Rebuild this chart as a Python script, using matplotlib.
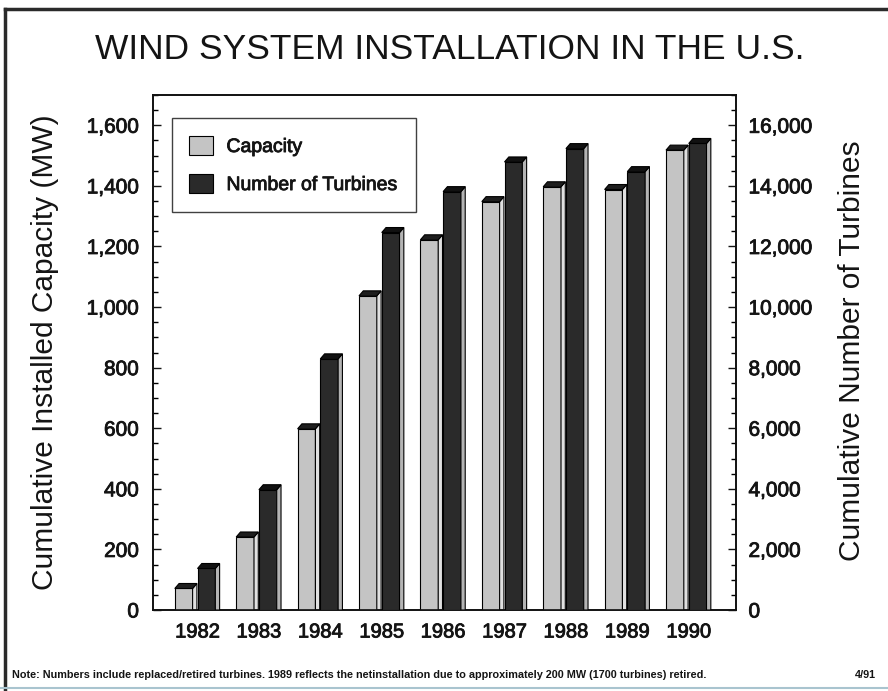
import matplotlib
matplotlib.use('Agg')
import matplotlib.pyplot as plt
import matplotlib.patheffects as pe
from matplotlib.patches import Rectangle
from matplotlib.lines import Line2D
from matplotlib.ticker import MultipleLocator, FuncFormatter
import numpy as np

plt.rcParams['font.family'] = ['Liberation Sans', 'DejaVu Sans']

# cumulative installations by year
years = ['1982', '1983', '1984', '1985', '1986', '1987', '1988', '1989', '1990']
capacity_mw = [71, 241, 598, 1037, 1222, 1348, 1397, 1388, 1518]
turbines = [1370, 3970, 8290, 12460, 13810, 14790, 15230, 14470, 15400]

x = np.arange(len(years))
bar_w = 0.29
depth_x = 0.07          # fake 3D depth in x data units
depth_px = 5            # fake 3D depth in pixels (vertical)
ink = '#141414'
heavy = [pe.withStroke(linewidth=0.6, foreground=ink)]

fig = plt.figure(figsize=(8.88, 6.91), dpi=100)
ax = fig.add_axes([153 / 888, 81 / 691, 583 / 888, 515 / 691])
ax2 = ax.twinx()

ax.set_xlim(-0.725, 8.77)
ax.set_ylim(0, 1700)
ax2.set_ylim(0, 17000)


def draw_3d_bars(axis, left, vals, ymax, front, side, top):
    dy = ymax / 515 * depth_px
    axis.bar(left, vals, width=bar_w, align='edge', color=front,
             edgecolor='black', linewidth=0.8, zorder=3)
    for x0, v in zip(left, vals):
        x1 = x0 + bar_w
        axis.fill([x1, x1 + depth_x, x1 + depth_x, x1],
                  [0, 0, v + dy, v], facecolor=side, edgecolor='black',
                  linewidth=0.8, zorder=3)
        axis.fill([x0, x1, x1 + depth_x, x0 + depth_x],
                  [v, v, v + dy, v + dy], facecolor=top, edgecolor='black',
                  linewidth=0.8, zorder=3)


draw_3d_bars(ax, x - 0.37, capacity_mw, 1700, '#c4c4c4', '#e0e0e0', '#1e1e1e')
draw_3d_bars(ax2, x, turbines, 17000, '#2a2a2a', '#b4b4b4', '#111111')

# axes styling
for a in (ax, ax2):
    for s in a.spines.values():
        s.set_linewidth(1.2)
        s.set_color('#111111')

ax.set_xticks(x)
ax.set_xticklabels(years)
ax.tick_params(axis='x', length=0, pad=9, labelsize=14.5, colors=ink)

ax.yaxis.set_major_locator(MultipleLocator(200))
ax.yaxis.set_minor_locator(MultipleLocator(50))
ax.yaxis.set_major_formatter(FuncFormatter(lambda v, p: f'{int(v):,}'))
ax.tick_params(axis='y', which='major', direction='in', length=6, width=1,
               pad=10, labelsize=15, colors=ink)
ax.tick_params(axis='y', which='minor', direction='in', length=3.5, width=1)

ax2.yaxis.set_major_locator(MultipleLocator(2000))
ax2.yaxis.set_minor_locator(MultipleLocator(500))
ax2.yaxis.set_major_formatter(FuncFormatter(lambda v, p: f'{int(v):,}'))
ax2.tick_params(axis='y', which='major', direction='in', length=6, width=1,
                pad=9, labelsize=15, colors=ink)
ax2.tick_params(axis='y', which='minor', direction='in', length=3.5, width=1)

for lbl in ax.get_xticklabels() + ax.get_yticklabels() + ax2.get_yticklabels():
    lbl.set_path_effects(heavy)

# legend
handles = [Rectangle((0, 0), 1, 1, facecolor='#c4c4c4', edgecolor='black', linewidth=0.8),
           Rectangle((0, 0), 1, 1, facecolor='#2a2a2a', edgecolor='black', linewidth=0.8)]
leg = ax2.legend(handles, ['Capacity', 'Number of Turbines'],
                 loc='upper left', bbox_to_anchor=(19 / 583, 1 - 23 / 515),
                 fontsize=14, frameon=True, fancybox=False, borderpad=0.9,
                 handlelength=1.2, handleheight=1.2, labelspacing=0.9,
                 handletextpad=0.7, borderaxespad=0)
leg.get_frame().set_edgecolor('#111111')
leg.get_frame().set_linewidth(1.0)
for t in leg.get_texts():
    t.set_color(ink)
    t.set_path_effects(heavy)

# titles and axis captions
fig.text(0.507, 0.928, 'WIND SYSTEM INSTALLATION IN THE U.S.', ha='center',
         va='center', fontsize=25.5, color=ink)
fig.text(0.051, 0.491, 'Cumulative Installed Capacity (MW)', rotation=90,
         ha='center', va='center', fontsize=21.5, color=ink)
fig.text(0.959, 0.493, 'Cumulative Number of Turbines', rotation=90,
         ha='center', va='center', fontsize=21.5, color=ink)

fig.text(12 / 888, 1 - 675 / 691,
         'Note: Numbers include replaced/retired turbines. 1989 reflects the '
         'netinstallation due to approximately 200 MW (1700 turbines) retired.',
         ha='left', va='center', fontsize=7.8, fontweight='bold', color=ink)
fig.text(876 / 888, 1 - 675 / 691, '4/91', ha='right', va='center',
         fontsize=7.8, fontweight='bold', color=ink)

# page frame
fig.add_artist(Line2D([5 / 888, 5 / 888], [0, 1 - 9 / 691], color='#2a2a2a',
                      linewidth=2.5, transform=fig.transFigure))
fig.add_artist(Line2D([5 / 888, 1], [1 - 9 / 691, 1 - 9 / 691], color='#2a2a2a',
                      linewidth=2.5, transform=fig.transFigure))
fig.add_artist(Line2D([0, 1], [3 / 691, 3 / 691], color='#a9c4cf',
                      linewidth=1.5, transform=fig.transFigure))

fig.savefig('out.png', dpi=100)
